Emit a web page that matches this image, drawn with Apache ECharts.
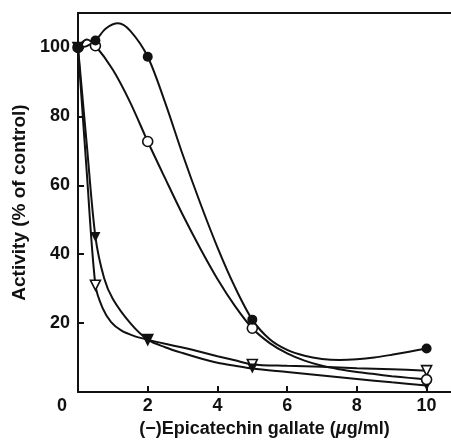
<!DOCTYPE html>
<html>
<head>
<meta charset="utf-8">
<script src="https://cdn.jsdelivr.net/npm/echarts@6/dist/echarts.min.js"></script>
<style>
html,body{margin:0;padding:0;background:#fff;}
#chart{width:451px;height:443px;}
</style>
</head>
<body>
<div id="chart"></div>
<script>
// Measured concentrations (µg/ml)
const concentrations = [0, 0.5, 2, 5, 10];
// Marker values (% of control)
const filledCircle = [100, 102, 97.3, 21, 12.6];
const openCircle = [100, 100.5, 72.7, 18.5, 3.6];
const filledTriangle = [100, 45, 15.2, 6.8, 1.9];
const openTriangle = [100, 31, 15.2, 8, 6.2];

// Fitted curves [x, y]
const filledCircleCurve = [[0,100],[0.25,100.4],[0.5,102],[0.8,105.5],[1.15,107],[1.5,104.8],[2,97.3],[2.5,84],[3,69],[3.5,55],[4,42],[4.5,30.5],[5,21],[5.5,15.3],[6,12.2],[6.5,10.5],[7,9.6],[7.5,9.3],[8,9.5],[8.5,10],[9,10.8],[9.5,11.7],[10,12.6]];
const openCircleCurve = [[0,100],[0.25,102.3],[0.5,100.5],[1,93.5],[1.5,84],[2,72.7],[2.5,62],[3,51.5],[3.5,41.8],[4,32.8],[4.5,25],[5,18.5],[5.5,14.2],[6,11.2],[6.5,9.1],[7,7.6],[7.5,6.6],[8,5.8],[8.5,5.2],[9,4.6],[9.5,4.1],[10,3.6]];
const filledTriangleCurve = [[0,100],[0.25,72],[0.5,45],[0.75,33],[1,27],[1.5,20],[2,15.2],[2.5,13],[3,11.3],[3.5,9.8],[4,8.5],[4.5,7.6],[5,6.8],[6,5.8],[7,4.8],[8,3.8],[9,2.8],[10,1.9]];
const openTriangleCurve = [[0,100],[0.25,64],[0.5,31],[0.7,24.5],[0.95,20.3],[1.25,17.8],[1.6,16.3],[2,15.2],[2.5,14],[3,12.9],[3.5,11.7],[4,10.4],[4.5,9.2],[5,8],[6,7.6],[7,7.3],[8,6.9],[9,6.6],[10,6.2]];

const xTickLabels = [0, 2, 4, 6, 8, 10];
const xTicks = [2, 4, 6, 8, 10];
const yTicks = [20, 40, 60, 80, 100];

const INK = '#111';
const FONT = '"Liberation Sans", Arial, sans-serif';

function pairs(ys) { return concentrations.map((x, i) => [x, ys[i]]); }

const chart = echarts.init(document.getElementById('chart'), null, {renderer: 'canvas'});

function curve(data) {
  return {type: 'line', data: data, smooth: 0.3, showSymbol: false, symbol: 'none',
    lineStyle: {color: INK, width: 2}, silent: true, z: 2, animation: false};
}
function marks(ys, symbol, filled, rotate) {
  return {type: 'scatter', data: pairs(ys), symbol: symbol, symbolSize: symbol === 'circle' ? 10 : 10,
    symbolRotate: rotate || 0,
    itemStyle: {color: filled ? INK : '#fff', borderColor: INK, borderWidth: filled ? 0 : 1.6, opacity: 1},
    z: 5, animation: false, silent: true};
}

chart.setOption({
  backgroundColor: '#fff',
  animation: false,
  grid: {left: 78, right: 0, top: 13, bottom: 46, containLabel: false},
  xAxis: [{
    type: 'value', min: 0, max: 10.7,
    name: '(−)Epicatechin gallate ({it|μ}g/ml)',
    nameLocation: 'middle', nameGap: 28,
    nameTextStyle: {fontFamily: FONT, fontSize: 18, fontWeight: 'bold', color: INK,
      rich: {it: {fontFamily: FONT, fontSize: 18, fontWeight: 'bold', fontStyle: 'italic', color: INK}}},
    axisLine: {show: true, onZero: false, lineStyle: {color: INK, width: 2}},
    axisTick: {show: true, inside: true, length: 6, customValues: xTicks, lineStyle: {color: INK, width: 2}},
    axisLabel: {customValues: xTickLabels, margin: 5, fontFamily: FONT, fontSize: 18, fontWeight: 'bold', color: INK,
      formatter: v => v === 0 ? '{z|0}' : String(v),
      rich: {z: {fontFamily: FONT, fontSize: 18, fontWeight: 'bold', color: INK, padding: [0, 32, 0, 0]}}},
    splitLine: {show: false}
  }, {
    type: 'value', min: 0, max: 10.7, position: 'top',
    axisLine: {show: true, onZero: false, lineStyle: {color: INK, width: 2}},
    axisTick: {show: false}, axisLabel: {show: false}, splitLine: {show: false}
  }],
  yAxis: {
    type: 'value', min: 0, max: 110,
    name: 'Activity (% of control)',
    nameLocation: 'middle', nameGap: 43, nameRotate: 90,
    nameTextStyle: {fontFamily: FONT, fontSize: 19, fontWeight: 'bold', color: INK},
    axisLine: {show: true, onZero: false, lineStyle: {color: INK, width: 2}},
    axisTick: {show: true, inside: true, length: 6, customValues: yTicks, lineStyle: {color: INK, width: 2}},
    axisLabel: {customValues: yTicks, margin: 8, fontFamily: FONT, fontSize: 18, fontWeight: 'bold', color: INK},
    splitLine: {show: false}
  },
  series: [
    curve(filledCircleCurve),
    curve(openCircleCurve),
    curve(filledTriangleCurve),
    curve(openTriangleCurve),
    marks(openTriangle, 'triangle', false, 180),
    marks(filledTriangle, 'triangle', true, 180),
    marks(openCircle, 'circle', false),
    marks(filledCircle, 'circle', true)
  ]
});
</script>
</body>
</html>
